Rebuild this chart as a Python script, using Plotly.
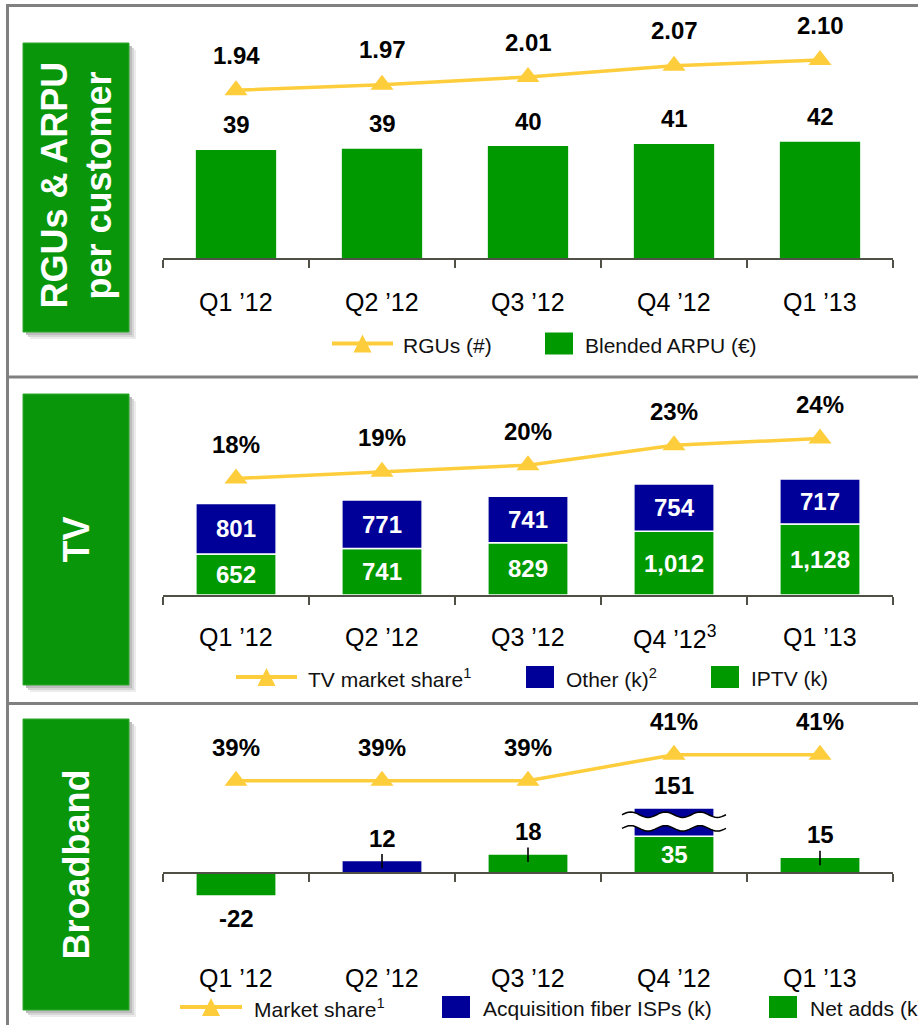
import math
import plotly.graph_objects as go

# ---------------- data ----------------
quarters = ["Q1 ’12", "Q2 ’12", "Q3 ’12", "Q4 ’12", "Q1 ’13"]
tv_quarters = ["Q1 ’12", "Q2 ’12", "Q3 ’12", "Q4 ’12<sup>3</sup>", "Q1 ’13"]

rgus_per_customer = [1.94, 1.97, 2.01, 2.07, 2.10]
blended_arpu_eur = [39.0, 39.4, 40.4, 41.2, 42.0]

tv_market_share = [18, 19, 20, 23, 24]
iptv_k = [652, 741, 829, 1012, 1128]
other_tv_k = [801, 771, 741, 754, 717]

bb_market_share = [39, 39, 39, 41, 41]
bb_net_adds_k = [-22, None, 18, 35, 15]
bb_acq_fiber_isps_k = [None, 12, None, 151, None]

# ---------------- style / geometry ----------------
W, H = 918, 1025
FONT = "Liberation Sans, Arial, Helvetica, sans-serif"
GREEN = "#009900"
BOX_GREEN = "#0A960A"
BLUE = "#000099"
GOLD = "#FDCD3C"
AXIS = "#505046"
BORDER = "#808080"
BAR_W = 0.55
LINE_W = 3.5
MARKER = 20
LBL = 24      # bold value labels
CAT = 25      # category labels
LEG = 21      # legend text
BB_BREAK_TOP = 62   # where the broken (out-of-scale) bar is cut

X_LEFT, X_RIGHT = 163, 893


def fx(p):
    return p / W


def fy(p):
    return 1 - p / H


def yrange(top_px, bot_px, ref_val, ref_px, ppu):
    return [ref_val - (bot_px - ref_px) / ppu, ref_val + (ref_px - top_px) / ppu]


idx = list(range(len(quarters)))

fig = go.Figure()

# ---------------- panel 1 : RGUs & ARPU ----------------
fig.add_trace(go.Bar(x=idx, y=blended_arpu_eur, xaxis="x", yaxis="y", width=BAR_W,
                     marker=dict(color=GREEN, line=dict(width=0)), name="Blended ARPU (€)"))
fig.add_trace(go.Scatter(x=idx, y=rgus_per_customer, xaxis="x", yaxis="y2", mode="lines+markers",
                         line=dict(color=GOLD, width=LINE_W), cliponaxis=False,
                         marker=dict(symbol="triangle-up", size=MARKER, color=GOLD), name="RGUs (#)"))

# ---------------- panel 2 : TV ----------------
fig.add_trace(go.Bar(x=idx, y=iptv_k, xaxis="x2", yaxis="y3", width=BAR_W,
                     marker=dict(color=GREEN, line=dict(color="white", width=1.5)), name="IPTV (k)"))
fig.add_trace(go.Bar(x=idx, y=other_tv_k, xaxis="x2", yaxis="y3", width=BAR_W,
                     marker=dict(color=BLUE, line=dict(color="white", width=1.5)), name="Other (k)"))
fig.add_trace(go.Scatter(x=idx, y=tv_market_share, xaxis="x2", yaxis="y4", mode="lines+markers",
                         line=dict(color=GOLD, width=LINE_W), cliponaxis=False,
                         marker=dict(symbol="triangle-up", size=MARKER, color=GOLD), name="TV market share"))

# ---------------- panel 3 : Broadband ----------------
def leader(v):
    return v is not None and 0 < v < 30


def shown_acq(net, acq):
    if acq is None:
        return None
    base = net if (net is not None and net > 0) else 0
    return min(acq, BB_BREAK_TOP - base)


bb_acq_shown = [shown_acq(n, a) for n, a in zip(bb_net_adds_k, bb_acq_fiber_isps_k)]

fig.add_trace(go.Bar(x=idx, y=bb_net_adds_k, xaxis="x3", yaxis="y5", width=BAR_W,
                     marker=dict(color=GREEN, line=dict(color="white", width=1.5)), name="Net adds (k)",
                     error_y=dict(type="data", symmetric=False,
                                  array=[6.2 if leader(v) else 0 for v in bb_net_adds_k],
                                  arrayminus=[7.5 if leader(v) else 0 for v in bb_net_adds_k],
                                  color="black", thickness=1.6, width=0)))
fig.add_trace(go.Bar(x=idx, y=bb_acq_shown, xaxis="x3", yaxis="y5", width=BAR_W,
                     marker=dict(color=BLUE, line=dict(color="white", width=1.5)), name="Acquisition fiber ISPs (k)",
                     error_y=dict(type="data", symmetric=False,
                                  array=[6.2 if leader(v) else 0 for v in bb_acq_fiber_isps_k],
                                  arrayminus=[7.5 if leader(v) else 0 for v in bb_acq_fiber_isps_k],
                                  color="black", thickness=1.6, width=0)))
fig.add_trace(go.Scatter(x=idx, y=bb_market_share, xaxis="x3", yaxis="y6", mode="lines+markers",
                         line=dict(color=GOLD, width=LINE_W), cliponaxis=False,
                         marker=dict(symbol="triangle-up", size=MARKER, color=GOLD), name="Market share"))

# ---------------- axes ----------------
def xax(anchor=None, position=None):
    d = dict(domain=[fx(X_LEFT), fx(X_RIGHT)], range=[-0.5, 4.5], showline=True, linecolor=AXIS,
             linewidth=2, ticks="outside", ticklen=8, tickwidth=2, tickcolor=AXIS, tickmode="array",
             tickvals=[i - 0.5 for i in range(len(quarters) + 1)], showticklabels=False,
             showgrid=False, zeroline=False, fixedrange=True)
    if position is None:
        d["anchor"] = anchor
    else:
        d.update(anchor="free", position=position)
    return d


def yax(top_px, bot_px, ref_val, ref_px, ppu, overlaying=None):
    d = dict(range=yrange(top_px, bot_px, ref_val, ref_px, ppu), visible=False, fixedrange=True,
             showgrid=False, zeroline=False)
    if overlaying:
        d["overlaying"] = overlaying
    else:
        d["domain"] = [fy(bot_px), fy(top_px)]
    return d


P1 = (12, 258)
P2 = (380, 595)
P3 = (705, 960)

fig.update_layout(
    xaxis=xax("y"),
    yaxis=yax(P1[0], P1[1], 0, 258, 2.77),
    yaxis2=yax(P1[0], P1[1], 1.94, 90.3, 189, overlaying="y"),
    xaxis2=xax("y3"),
    yaxis3=yax(P2[0], P2[1], 0, 595, 1 / 15.9),
    yaxis4=yax(P2[0], P2[1], 18, 478.5, 6.67, overlaying="y3"),
    xaxis3=xax(position=fy(873)),
    yaxis5=yax(P3[0], P3[1], 0, 873, 1.05),
    yaxis6=yax(P3[0], P3[1], 39, 780.7, 13.0, overlaying="y5"),
)

ann = []


def bold(t):
    return "<b>" + t + "</b>"


# value labels panel 1
for i, v in enumerate(blended_arpu_eur):
    ann.append(dict(xref="x", yref="y", x=i, y=v, yshift=25, text=bold(f"{v:.0f}"),
                    font=dict(size=LBL, color="black")))
for i, v in enumerate(rgus_per_customer):
    ann.append(dict(xref="x", yref="y2", x=i, y=v, yshift=35, text=bold(f"{v:.2f}"),
                    font=dict(size=LBL, color="black")))

# value labels panel 2
for i, (a, b) in enumerate(zip(iptv_k, other_tv_k)):
    ann.append(dict(xref="x2", yref="y3", x=i, y=a / 2, text=bold(f"{a:,}"),
                    font=dict(size=LBL, color="white")))
    ann.append(dict(xref="x2", yref="y3", x=i, y=a + b / 2, text=bold(f"{b:,}"),
                    font=dict(size=LBL, color="white")))
for i, v in enumerate(tv_market_share):
    ann.append(dict(xref="x2", yref="y4", x=i, y=v, yshift=34, text=bold(f"{v}%"),
                    font=dict(size=LBL, color="black")))

# value labels panel 3
for i, (n, a, s) in enumerate(zip(bb_net_adds_k, bb_acq_fiber_isps_k, bb_acq_shown)):
    if n is not None:
        if n < 0:
            ann.append(dict(xref="x3", yref="y5", x=i, y=n, yshift=-22, text=bold(f"{n}"),
                            font=dict(size=LBL, color="black")))
        elif leader(n):
            ann.append(dict(xref="x3", yref="y5", x=i, y=n, yshift=23, text=bold(f"{n}"),
                            font=dict(size=LBL, color="black")))
        else:
            ann.append(dict(xref="x3", yref="y5", x=i, y=n / 2, text=bold(f"{n}"),
                            font=dict(size=LBL, color="white")))
    if a is not None:
        base = n if (n is not None and n > 0) else 0
        ann.append(dict(xref="x3", yref="y5", x=i, y=base + s, yshift=22, text=bold(f"{a}"),
                        font=dict(size=LBL, color="black")))
for i, v in enumerate(bb_market_share):
    ann.append(dict(xref="x3", yref="y6", x=i, y=v, yshift=33.5, text=bold(f"{v}%"),
                    font=dict(size=LBL, color="black")))

# category labels
for xr, labels, ypx in (("x", quarters, 302), ("x2", tv_quarters, 637), ("x3", quarters, 978)):
    for i, t in enumerate(labels):
        ann.append(dict(xref=xr, yref="paper", x=i, y=fy(ypx), text=t,
                        font=dict(size=CAT, color="black")))

shapes = []

# panel borders
for ypx in (5.5, 377, 703.5):
    shapes.append(dict(type="line", xref="paper", yref="paper", x0=fx(6), x1=1.0, y0=fy(ypx), y1=fy(ypx),
                       line=dict(color=BORDER, width=3)))
shapes.append(dict(type="line", xref="paper", yref="paper", x0=fx(7.5), x1=fx(7.5), y0=fy(4), y1=0,
                   line=dict(color=BORDER, width=3)))

# green title boxes with shadow
boxes = [(43, 332, ["RGUs & ARPU", "per customer"]), (394, 685, ["TV"]), (719, 1010, ["Broadband"])]
for top, bot, lines in boxes:
    for off, col in ((7, "#ececec"), (5, "#d6d6d6"), (3, "#bdbdbd")):
        shapes.append(dict(type="rect", xref="paper", yref="paper", x0=fx(23 + off), x1=fx(129 + off),
                           y0=fy(bot + off), y1=fy(top + off), line=dict(width=0), fillcolor=col, layer="below"))
    shapes.append(dict(type="rect", xref="paper", yref="paper", x0=fx(23), x1=fx(129),
                       y0=fy(bot), y1=fy(top), line=dict(color="#2EA82E", width=1), fillcolor=BOX_GREEN,
                       layer="below"))
    cy = (top + bot) / 2
    if len(lines) == 2:
        xs = [54, 98]
        cy -= 2
    else:
        xs = [76]
    for xc, t in zip(xs, lines):
        ann.append(dict(xref="paper", yref="paper", x=fx(xc), y=fy(cy), text=bold(t), textangle=-90,
                        font=dict(size=36, color="white")))

# broken bar marks (panel 3)
for i, (n, a, s) in enumerate(zip(bb_net_adds_k, bb_acq_fiber_isps_k, bb_acq_shown)):
    if a is None or s >= a:
        continue
    half = 0.356
    amp = 2.6
    steps = 48
    xs = [i - half + 2 * half * k / steps for k in range(steps + 1)]
    wav = [amp * math.sin(2 * math.pi * 3 * k / steps) for k in range(steps + 1)]
    yu = BB_BREAK_TOP - 6.5
    yl = BB_BREAK_TOP - 19.5
    up = [(x, yu + w) for x, w in zip(xs, wav)]
    lo = [(x, yl + w) for x, w in zip(xs, wav)]
    poly = "M " + " L ".join(f"{x:.4f},{y:.3f}" for x, y in up + lo[::-1]) + " Z"
    shapes.append(dict(type="path", xref="x3", yref="y5", path=poly, fillcolor="white", line=dict(width=0)))
    for pts in (up, lo):
        shapes.append(dict(type="path", xref="x3", yref="y5",
                           path="M " + " L ".join(f"{x:.4f},{y:.3f}" for x, y in pts),
                           line=dict(color="black", width=1.5)))

# legends
def leg_line(x0, x1, ypx):
    shapes.append(dict(type="line", xref="paper", yref="paper", x0=fx(x0), x1=fx(x1), y0=fy(ypx), y1=fy(ypx),
                       line=dict(color=GOLD, width=4)))
    cx = (x0 + x1) / 2
    path = (f"M {fx(cx - 9)},{fy(ypx + 9)} L {fx(cx + 9)},{fy(ypx + 9)} "
            f"L {fx(cx)},{fy(ypx - 9)} Z")
    shapes.append(dict(type="path", xref="paper", yref="paper", path=path, fillcolor=GOLD,
                       line=dict(width=0)))


def leg_square(x0, ypx, color):
    shapes.append(dict(type="rect", xref="paper", yref="paper", x0=fx(x0), x1=fx(x0 + 28),
                       y0=fy(ypx + 11), y1=fy(ypx - 11), fillcolor=color, line=dict(width=0)))


def leg_text(x0, ypx, t):
    ann.append(dict(xref="paper", yref="paper", x=fx(x0), y=fy(ypx), xanchor="left", text=t,
                    font=dict(size=LEG, color="#111111")))


leg_line(332, 393, 343.5)
leg_text(401, 345, "RGUs (#)")
leg_square(545, 343.5, GREEN)
leg_text(583, 345, "Blended ARPU (€)")

leg_line(236, 297, 677)
leg_text(306, 678, "TV market share<sup>1</sup>")
leg_square(526, 677, BLUE)
leg_text(564, 678, "Other (k)<sup>2</sup>")
leg_square(711, 677, GREEN)
leg_text(749, 678, "IPTV (k)")

leg_line(180, 242, 1007)
leg_text(252, 1008, "Market share<sup>1</sup>")
leg_square(442, 1007, BLUE)
leg_text(481, 1008, "Acquisition fiber ISPs (k)")
leg_square(769, 1007, GREEN)
leg_text(808, 1008, "Net adds (k)")

for a in ann:
    a.setdefault("showarrow", False)
    a.setdefault("xanchor", "center")
    a.setdefault("yanchor", "middle")

fig.update_layout(
    width=W, height=H, margin=dict(l=0, r=0, t=0, b=0),
    paper_bgcolor="white", plot_bgcolor="rgba(0,0,0,0)",
    font=dict(family=FONT, color="black"),
    barmode="relative", showlegend=False,
    annotations=ann, shapes=shapes,
)

fig.write_html("out.html", config={"displayModeBar": False},
               post_script="document.body.style.margin='0px';document.body.style.overflow='hidden';")
